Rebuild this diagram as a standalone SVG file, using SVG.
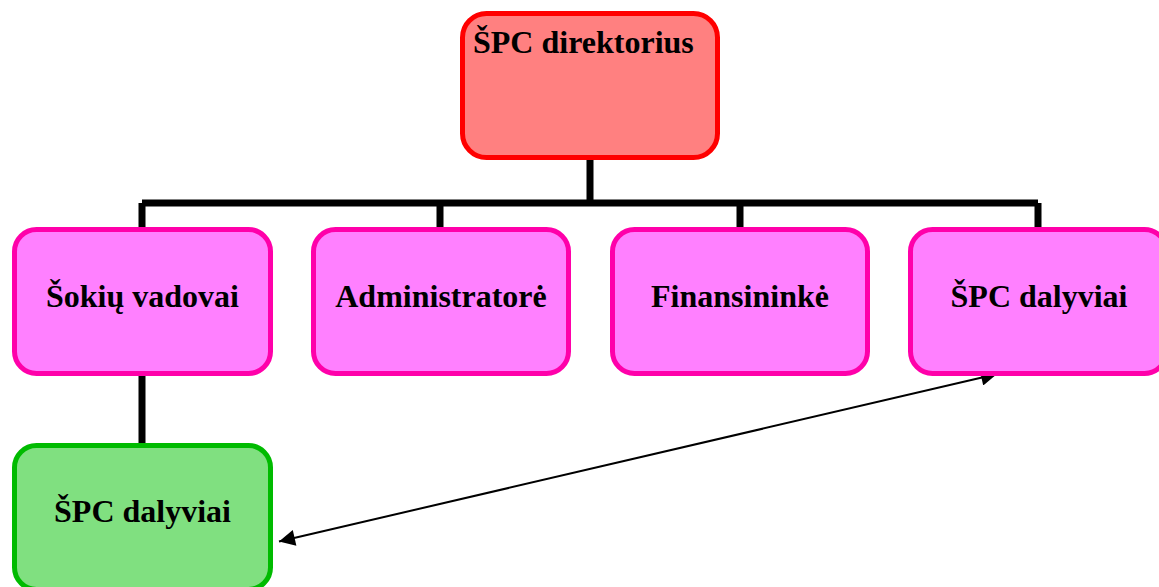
<svg xmlns="http://www.w3.org/2000/svg" width="1159" height="587" viewBox="0 0 1159 587">
<defs>
<style>
.t{font-family:"Liberation Serif","Times New Roman",serif;font-weight:bold;font-size:32px;fill:#000}
.lvl2{fill:#FF80FF;stroke:#FF00AA;stroke-width:5}
.top{fill:#FF8080;stroke:#FF0000;stroke-width:5}
.grn{fill:#80E080;stroke:#00BB00;stroke-width:5}
.tree{fill:none;stroke:#000;stroke-width:7;stroke-linejoin:miter}
</style>
<marker id="ah" viewBox="0 0 10 10" refX="10" refY="5" markerWidth="10" markerHeight="8" markerUnits="strokeWidth" orient="auto-start-reverse">
<path d="M0,0 L10,5 L0,10 z" fill="#000"/>
</marker>
</defs>
<rect width="1159" height="587" fill="#fff"/>
<g id="connectors">
<path class="tree" d="M590,158 V203 M142,203 H1038 M142,203 V229 M440,203 V229 M740,203 V229 M1038,203 V229 M142,374 V445"/>
<line x1="279" y1="541.5" x2="997" y2="374" stroke="#000" stroke-width="2" marker-start="url(#ah)" marker-end="url(#ah)"/>
</g>
<g id="n-director">
<rect class="top" x="462.5" y="13.5" width="255" height="144" rx="24"/>
<text class="t" x="473" y="53">ŠPC direktorius</text>
</g>
<g id="n-sokiu">
<rect class="lvl2" x="14.5" y="229.5" width="256" height="144" rx="22"/>
<text class="t" x="142.5" y="307" text-anchor="middle">Šokių vadovai</text>
</g>
<g id="n-admin">
<rect class="lvl2" x="313.5" y="229.5" width="255" height="144" rx="22"/>
<text class="t" x="441" y="307" text-anchor="middle">Administratorė</text>
</g>
<g id="n-fin">
<rect class="lvl2" x="612.5" y="229.5" width="255" height="144" rx="22"/>
<text class="t" x="740" y="307" text-anchor="middle">Finansininkė</text>
</g>
<g id="n-dalyviai1">
<rect class="lvl2" x="910.5" y="229.5" width="256" height="144" rx="22"/>
<text class="t" x="1039" y="307" text-anchor="middle">ŠPC dalyviai</text>
</g>
<g id="n-dalyviai2">
<rect class="grn" x="14.5" y="445.5" width="256" height="144" rx="22"/>
<text class="t" x="142.5" y="522" text-anchor="middle">ŠPC dalyviai</text>
</g>
</svg>
